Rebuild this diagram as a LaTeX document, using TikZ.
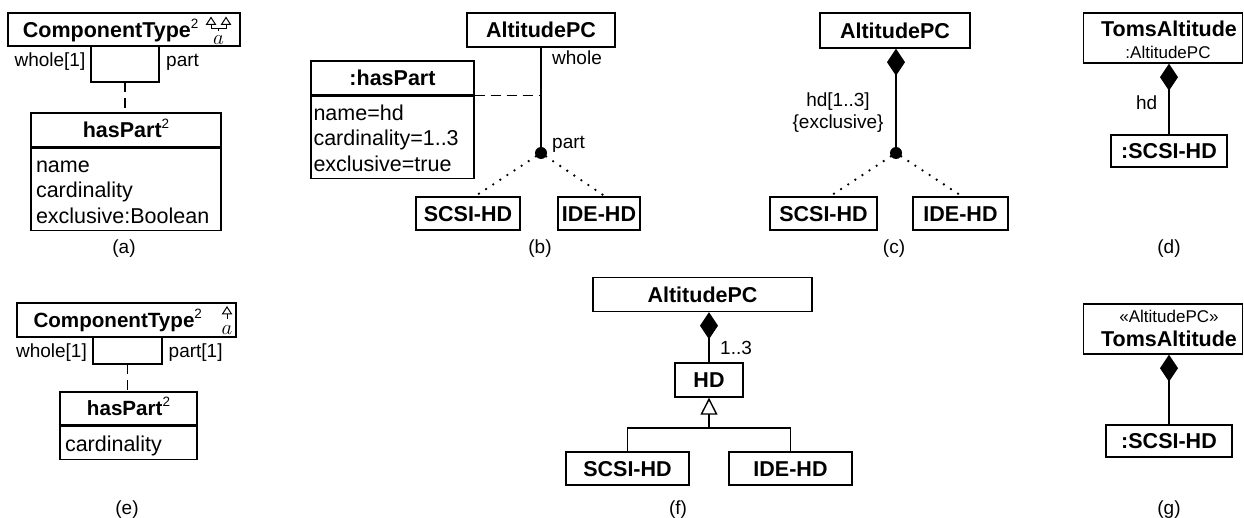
\documentclass[tikz,border=0pt]{standalone}
\usepackage{fontspec}
\setmainfont{Liberation Sans}
\usetikzlibrary{arrows.meta,calc}
% superscript "2" after a bold class name
\newcommand\supii{\raisebox{9pt}{\mdseries\fontsize{13.5}{14}\selectfont 2}}
% fixed-height strut for attribute lines
\newcommand\ls{\rule[-4pt]{0pt}{25pt}}
\begin{document}
\begin{tikzpicture}[x=1pt,y=-1pt,
  every node/.style={inner sep=0pt},
  box/.style={draw, line width=1.4pt, font=\bfseries\fontsize{21.5}{25}\selectfont, text height=15.4pt, text depth=0pt},
  boxe/.style={box, font=\bfseries\fontsize{20.6}{24}\selectfont, text height=14.8pt},
  attrs/.style={draw, line width=1.4pt, anchor=north, inner xsep=5pt, inner ysep=0pt, align=left, font=\fontsize{21.5}{25}\selectfont},
  lbl/.style={font=\fontsize{19}{22}\selectfont},
  boldtext/.style={font=\bfseries\fontsize{21.5}{25}\selectfont},
  smalltext/.style={font=\fontsize{17}{20}\selectfont},
  joint/.style={circle, fill, minimum size=12pt},
  wire/.style={line width=1.4pt},
  dotline/.style={line width=2.6pt, line cap=round, dash pattern=on 0pt off 8.5pt},
  dashline/.style={line width=1.4pt, dash pattern=on 10pt off 6pt},
  compose/.style={wire, -{Diamond[length=27pt,width=18pt]}},
  inherit/.style={wire, -{Triangle[open,length=17pt,width=17pt,fill=white]}},
  symline/.style={line width=1pt},
  symtext/.style={font=\fontsize{22}{22}\selectfont},
]
\useasboundingbox (0,0) rectangle (1244,518);

% ---------------- (a) ----------------
\node[box, minimum width=232pt, minimum height=33pt] (cta) at (124,29.5) {};
\node[boldtext, anchor=base west] (ctan) at (22.7,37.3) {ComponentType\supii};
\draw[symline] (206.5,24.5) -- (211,17.5) -- (215.5,24.5) -- cycle;
\draw[symline] (221.5,24.5) -- (226,17.5) -- (230.5,24.5) -- cycle;
\draw[symline] (211,24.5) -- (211,29) -- (226,29) -- (226,24.5);
\draw[symline] (218.5,29) -- (218.5,31.5);
\node[symtext] (syma) at (218.5,40) {$a$};

\coordinate (al) at (91,82);
\coordinate (ar) at (159,82);
\coordinate (am) at (125,82);
\draw[wire] (al |- cta.south) -- (al) -- (ar) -- (ar |- cta.south);
\node[lbl, anchor=base east] (wha) at (85.5,66.5) {whole[1]};
\node[lbl, anchor=base west] (pta) at (166,66.5) {part};

\node[box, minimum width=190pt, minimum height=34pt] (hpa) at (126,130) {hasPart\supii};
\node[attrs, text width=180pt, minimum height=82pt] (hpab) at (hpa.south)
  {\ls name\\\ls cardinality\\\ls exclusive:Boolean};
\draw[dashline] (am) -- (am |- hpa.north);
\node[lbl, anchor=base] (capa) at (124,254) {(a)};

% ---------------- (b) ----------------
\node[box, minimum width=148pt, minimum height=34pt] (apb) at (541,30) {AltitudePC};
\node[joint] (jb) at (541,153) {};
\draw[wire] (jb) -- (jb |- apb.south);
\node[lbl, anchor=base west] (whb) at (552,65) {whole};
\node[lbl, anchor=base west] (ptb) at (552,149) {part};
\node[box, minimum width=163pt, minimum height=34pt] (hpb) at (392.5,78) {:hasPart};
\node[attrs, text width=158pt, inner xsep=2.5pt, minimum height=82pt] (hpbb) at (hpb.south)
  {\ls name=hd\\\ls cardinality=1..3\\\ls exclusive=true};
\draw[dashline] (hpb.south east) -- (hpb.south east -| jb);
\node[box, minimum width=104pt, minimum height=33pt] (sb) at (468,213.5) {SCSI-HD};
\node[box, minimum width=82pt, minimum height=33pt] (ib) at (599,213.5) {IDE-HD};
\draw[dotline] (jb) -- ([xshift=7pt]sb.north);
\draw[dotline] (jb) -- ([xshift=6pt]ib.north);
\node[lbl, anchor=base] (capb) at (540,254) {(b)};

% ---------------- (c) ----------------
\node[box, minimum width=150pt, minimum height=35pt] (apc) at (895,30.5) {AltitudePC};
\node[joint] (jc) at (896,153) {};
\draw[compose] (jc) -- (jc |- apc.south);
\node[lbl, anchor=base] (hdc) at (838,106.5) {hd[1..3]};
\node[lbl, anchor=base] (exc) at (838,128.5) {\{exclusive\}};
\node[box, minimum width=107pt, minimum height=33pt] (sc) at (823.5,213.5) {SCSI-HD};
\node[box, minimum width=95pt, minimum height=33pt] (ic) at (960.5,213.5) {IDE-HD};
\draw[dotline] (jc) -- ([xshift=6.5pt]sc.north);
\draw[dotline] (jc) -- ([xshift=1.5pt]ic.north);
\node[lbl, anchor=base] (capc) at (894,254) {(c)};

% ---------------- (d) ----------------
\node[draw, wire, minimum width=159pt, minimum height=50pt] (tad) at (1162.8,38) {};
\node[boldtext, anchor=base] (tadn) at (1169,36.7) {TomsAltitude};
\node[smalltext, anchor=base] (tadt) at (1168,58.3) {:AltitudePC};
\node[box, minimum width=116pt, minimum height=32pt] (sd) at (1169,151) {:SCSI-HD};
\draw[compose] (sd.north) -- (sd.north |- tad.south);
\node[lbl, anchor=base east] (hdd) at (1157.5,110) {hd};
\node[lbl, anchor=base] (capd) at (1169,254) {(d)};

% ---------------- (e) ----------------
\node[box, minimum width=219pt, minimum height=34pt] (cte) at (126.5,320) {};
\node[boldtext, font=\bfseries\fontsize{20.6}{24}\selectfont, anchor=base west] (cten) at (33.3,327) {ComponentType\supii};
\draw[symline] (222.5,314) -- (227,307) -- (231.5,314) -- cycle;
\draw[symline] (227,314) -- (227,319);
\node[symtext] (syme) at (227,330) {$a$};

\coordinate (el) at (93,364);
\coordinate (er) at (162,364);
\coordinate (em) at (127.5,364);
\draw[wire] (el |- cte.south) -- (el) -- (er) -- (er |- cte.south);
\node[lbl, anchor=base east] (whe) at (87,357) {whole[1]};
\node[lbl, anchor=base west] (pte) at (168.5,357) {part[1]};

\node[boxe, minimum width=137pt, minimum height=33pt] (hpe) at (128.5,408.5) {hasPart\supii};
\node[attrs, text width=127pt, minimum height=33pt] (hpeb) at (hpe.south) {\ls cardinality};
\draw[dashline] (em) -- (em |- hpe.north);
\node[lbl, anchor=base] (cape) at (127,514) {(e)};

% ---------------- (f) ----------------
\node[box, minimum width=219pt, minimum height=34pt] (apf) at (702.5,294.5) {AltitudePC};
\node[box, minimum width=68pt, minimum height=34pt] (hdf) at (709,380) {HD};
\draw[compose] (hdf.north) -- (hdf.north |- apf.south);
\node[lbl, anchor=base west] (mf) at (720,355) {1..3};
\coordinate (fj) at (709,428);
\draw[inherit] (fj) -- (hdf.south);
\node[box, minimum width=123pt, minimum height=33pt] (sf) at (627.5,468.5) {SCSI-HD};
\node[box, minimum width=123pt, minimum height=33pt] (iff) at (790.5,468.5) {IDE-HD};
\draw[wire] (sf.north) |- (fj) -| (iff.north);
\node[lbl, anchor=base] (capf) at (678,514) {(f)};

% ---------------- (g) ----------------
\node[draw, wire, minimum width=159pt, minimum height=50pt] (tag) at (1162.8,329) {};
\node[smalltext, anchor=base] (tags) at (1169,322.7) {«AltitudePC»};
\node[boldtext, anchor=base] (tagn) at (1169,346.7) {TomsAltitude};
\node[box, minimum width=125.7pt, minimum height=31.7pt] (sg) at (1169,441) {:SCSI-HD};
\draw[compose] (sg.north) -- (sg.north |- tag.south);
\node[lbl, anchor=base] (capg) at (1169,514) {(g)};
\end{tikzpicture}
\end{document}
